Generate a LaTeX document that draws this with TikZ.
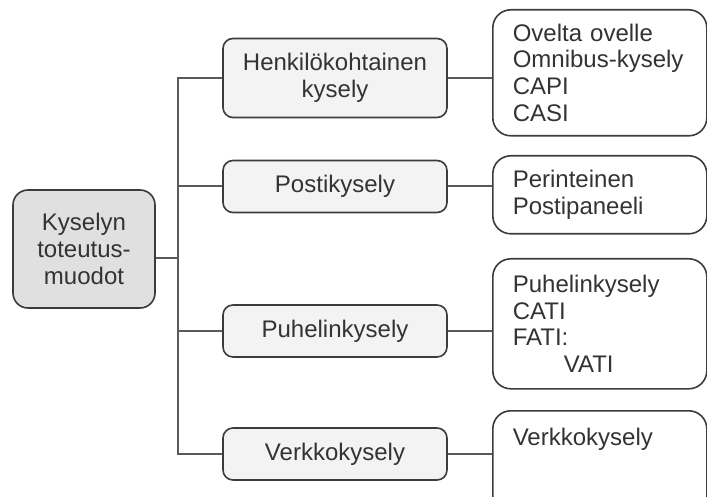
\documentclass[tikz,border=0pt]{standalone}
\usepackage{fontspec}
\setmainfont{Liberation Sans}
\usetikzlibrary{positioning}

\definecolor{boxline}{HTML}{3C3C3C}
\definecolor{linkgray}{HTML}{5A5A5A}
\definecolor{rootfill}{HTML}{E0E0E0}
\definecolor{midfill}{HTML}{F3F3F3}
\definecolor{txtgray}{HTML}{333333}

\tikzset{
  rootbox/.style={draw=boxline, line width=0.8pt, fill=rootfill,
    rounded corners=7.5pt, minimum width=71pt, minimum height=59pt,
    align=center, text=txtgray},
  midbox/.style={draw=boxline, line width=0.8pt, fill=midfill,
    rounded corners=5pt, minimum width=112pt, minimum height=26pt,
    align=center, text=txtgray},
  leafbox/.style={draw=boxline, line width=0.8pt, fill=white,
    rounded corners=9pt, text width=87pt, inner xsep=10pt,
    align=left, anchor=north west, text=txtgray},
  link/.style={draw=linkgray, line width=1pt}
}

\begin{document}
\begin{tikzpicture}[x=0.5pt, y=-0.5pt,
    font=\fontsize{12pt}{13.4pt}\selectfont]
      \useasboundingbox (0,0) rectangle (707,497);
      % Add the root
      \node[rootbox] (root) at (84,249) {Kyselyn\\toteutus-\\muodot};
      % Add the survey types
      \node[midbox,
        minimum height=39.5pt] (hk) at (335,78) {Henkilökohtainen\\kysely};
      \node[midbox] (pk) at (335,186.5) {Postikysely};
      \node[midbox] (ph) at (335,331) {Puhelinkysely};
      \node[midbox] (vk) at (335,454) {Verkkokysely};
      % Add the methods
      \node[leafbox,
        minimum height=63pt] (ov) at (492,9)
        {Ovelta ovelle\\Omnibus-kysely\\CAPI\\CASI};
      \node[leafbox,
        minimum height=39pt] (pe) at (492,155)
        {Perinteinen\\Postipaneeli};
      \node[leafbox,
        minimum height=65pt] (pu) at (492,258)
        {Puhelinkysely\\CATI\\FATI:\\\hspace*{25.5pt}VATI};
      \node[leafbox,
        inner ysep=8.5pt,
        text depth=27pt] (ve) at (492,410) {Verkkokysely};
      % Connect the boxes
      \coordinate (tr) at (178,258);
      \draw[link] (root.east |- tr) -- (tr);
      \draw[link] (hk.west) -- (hk.west -| tr) -- (vk.west -| tr) -- (vk.west);
      \draw[link] (pk.west) -- (pk.west -| tr);
      \draw[link] (ph.west) -- (ph.west -| tr);
      \draw[link] (hk.east) -- (hk.east -| ov.west);
      \draw[link] (pk.east) -- (pk.east -| pe.west);
      \draw[link] (ph.east) -- (ph.east -| pu.west);
      \draw[link] (vk.east) -- (vk.east -| ve.west);
    \end{tikzpicture}
\end{document}
